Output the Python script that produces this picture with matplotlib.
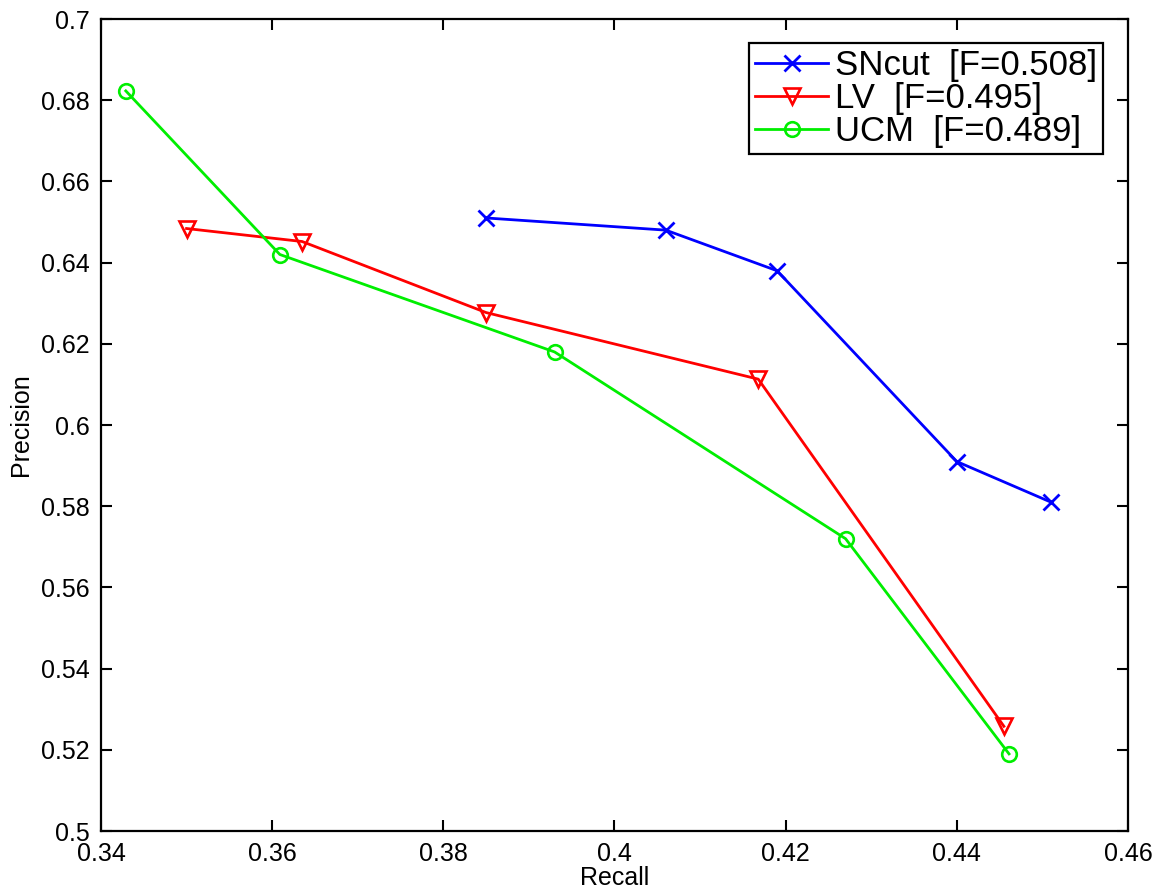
import matplotlib
matplotlib.use('Agg')
import matplotlib.pyplot as plt
from matplotlib.ticker import FormatStrFormatter, MultipleLocator

plt.rcParams['font.family'] = ['Liberation Sans', 'DejaVu Sans']

# recall / precision values
sncut_r = [0.385, 0.406, 0.419, 0.440, 0.451]
sncut_p = [0.651, 0.648, 0.638, 0.591, 0.581]
lv_r = [0.350, 0.3635, 0.385, 0.4168, 0.4455]
lv_p = [0.6484, 0.6452, 0.6277, 0.6113, 0.5258]
ucm_r = [0.3429, 0.3609, 0.393, 0.427, 0.4461]
ucm_p = [0.6823, 0.6420, 0.618, 0.572, 0.519]
labels = ['SNcut  [F=0.508]', 'LV  [F=0.495]', 'UCM  [F=0.489]']

fig = plt.figure(figsize=(11.66, 8.93), dpi=100)
ax = fig.add_axes([0.0866, 0.0694, 0.8808, 0.9093])

ax.plot(sncut_r, sncut_p, color='#0000ff', marker='x', ms=11, mew=2, lw=2, label=labels[0])
ax.plot(lv_r, lv_p, color='#ff0000', marker='v', ms=12, mfc='none', mew=1.9, lw=2, label=labels[1])
ax.plot(ucm_r, ucm_p, color='#00ee00', marker='o', ms=10.5, mfc='none', mew=1.9, lw=2, label=labels[2])

ax.set_xlim(0.34, 0.46)
ax.set_ylim(0.5, 0.7)
ax.xaxis.set_major_locator(MultipleLocator(0.02))
ax.yaxis.set_major_locator(MultipleLocator(0.02))
ax.xaxis.set_major_formatter(FormatStrFormatter('%g'))
ax.yaxis.set_major_formatter(FormatStrFormatter('%g'))
ax.tick_params(direction='in', length=8, width=1.5, top=True, right=True, labelsize=18)
ax.tick_params(axis='x', pad=8)
ax.tick_params(axis='y', pad=8)
for s in ax.spines.values():
    s.set_linewidth(1.6)

ax.set_xlabel('Recall', fontsize=18, labelpad=0)
ax.set_ylabel('Precision', fontsize=18, labelpad=6)

leg = ax.legend(loc='upper right', bbox_to_anchor=(0.9757, 0.9704), borderaxespad=0,
                fontsize=25, handlelength=2.1, handletextpad=0.2, labelspacing=0.0,
                borderpad=0.17, fancybox=False, framealpha=1)
leg.get_frame().set_edgecolor('black')
leg.get_frame().set_linewidth(1.6)

fig.savefig('out.png', dpi=100)
